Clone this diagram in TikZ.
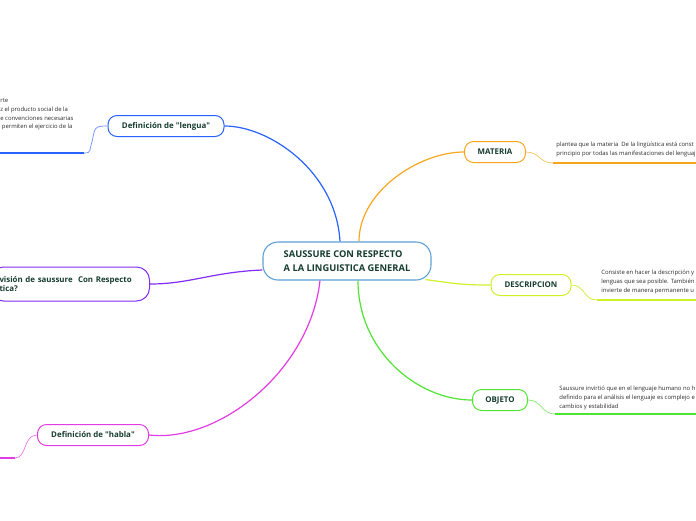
\documentclass[tikz,border=0pt]{standalone}
\usepackage{fontspec}
\setmainfont{Open Sans}
\usepackage{xcolor}
\usetikzlibrary{positioning}

\definecolor{inkgreen}{RGB}{22,60,48}
\definecolor{notegray}{RGB}{45,45,45}
\definecolor{centreblue}{RGB}{95,160,215}
\definecolor{lenblue}{RGB}{41,98,255}
\definecolor{matorange}{RGB}{248,166,30}
\definecolor{desclime}{RGB}{205,242,40}
\definecolor{objgreen}{RGB}{80,228,50}
\definecolor{visionpurple}{RGB}{130,45,245}
\definecolor{hablamag}{RGB}{228,60,228}

\begin{document}
\begin{tikzpicture}[x=1pt, y=-1pt, thick]
  \tikzstyle{topic}=[rectangle, draw=centreblue, fill=white, rounded corners=15pt,
                     line width=1.1pt, minimum width=168pt, minimum height=38pt,
                     align=left, text=inkgreen, font=\fontsize{9.3}{14}\selectfont\bfseries]
  \tikzstyle{branch}=[rectangle, fill=white, rounded corners=9pt, line width=1pt,
                      minimum height=21pt, align=center, text=inkgreen,
                      font=\fontsize{7.9}{9}\selectfont\bfseries]
  \tikzstyle{note}=[anchor=north west, align=left, inner sep=0pt, text=notegray,
                    font=\fontsize{5.9}{8.9}\selectfont]
  \tikzstyle{link}=[line width=1.2pt]
  \tikzstyle{curl}=[line width=0.7pt]
  \tikzstyle{uline}=[line width=1.8pt]

  \useasboundingbox[fill=white] (0,0) rectangle (696,520);

  \node[topic] at (347,261) (centre) {SAUSSURE CON RESPECTO\\A LA LINGUISTICA GENERAL};

  \node[branch, draw=matorange, minimum width=61pt]  at (495,152) (materia)     {MATERIA};
  \node[branch, draw=desclime, minimum width=80pt]   at (531,285) (descripcion) {DESCRIPCION};
  \node[branch, draw=objgreen, minimum width=55pt]   at (500,400) (objeto)      {OBJETO};
  \node[branch, draw=lenblue, minimum width=116pt]   at (166,126) (lengua)      {Definición de \textquotedbl lengua\textquotedbl};
  \node[branch, draw=hablamag, minimum width=111pt]  at (93,435)  (habla)       {Definición de \textquotedbl habla\textquotedbl};
  \node[branch, draw=visionpurple, anchor=east, minimum height=34pt, text width=141pt,
        align=left, inner xsep=9pt, rounded corners=13pt] at (150,284) (vision)
        {visión de saussure\ \ Con Respecto\\tica?};

  \node[note] at (0,98)    (lenguatxt) {rte\\z el producto social de la\\e convenciones necesarias\\\ permiten el ejercicio de la};
  \node[note] at (556,142) (materiatxt) {plantea que la materia\ \ De la lingüística está const\\principio por todas las manifestaciones del lenguaj};
  \node[note] at (601,270) (descripciontxt) {Consiste en hacer la descripción y\\lenguas que sea posible. También\\invierte de manera permanente u};
  \node[note] at (559,386) (objetotxt) {Saussure invirtió que en el lenguaje humano no h\\definido para el análisis el lenguaje es complejo e\\cambios y estabilidad};

  \coordinate (lenguaend) at (0,153);
  \coordinate (materiaend) at (696,163);
  \coordinate (descripcionend) at (696,300);
  \coordinate (objetoend) at (696,414);
  \coordinate (hablaend) at (0,458);

  \draw[link, lenblue] ([xshift=-7pt]centre.north) .. controls +(-4,-70) and +(45,0) .. (lengua.east);
  \draw[link, matorange] ([xshift=12pt]centre.north) .. controls +(0,-50) and +(-45,0) .. (materia.west);
  \draw[link, desclime] ([xshift=-6pt,yshift=1pt]centre.south east) .. controls +(30,4) and +(-30,0) .. (descripcion.west);
  \draw[link, objgreen] ([xshift=11pt]centre.south) .. controls +(0,70) and +(-55,0) .. (objeto.west);
  \draw[link, hablamag] ([xshift=-27pt]centre.south) .. controls +(-10,90) and +(70,8) .. (habla.east);
  \draw[link, visionpurple] ([yshift=-9pt]centre.west) .. controls +(-50,2) and +(40,0) .. (vision.east);

  \draw[curl, lenblue!70] (lengua.west) .. controls +(-14,0) and +(3,-14) .. (92,142) .. controls +(-3,8) and +(8,0) .. (84,153);
  \draw[uline, lenblue] (84,153) -- (lenguaend);
  \draw[curl, matorange!70] (materia.east) .. controls +(14,0) and +(-14,0) .. (553,163);
  \draw[uline, matorange] (553,163) -- (materiaend);
  \draw[curl, desclime] (descripcion.east) .. controls +(14,0) and +(-14,0) .. (597,300);
  \draw[uline, desclime] (597,300) -- (descripcionend);
  \draw[curl, objgreen!70] (objeto.east) .. controls +(14,0) and +(-14,0) .. (555,414);
  \draw[uline, objgreen] (555,414) -- (objetoend);
  \draw[curl, hablamag!70] (habla.west) .. controls +(-14,0) and +(12,0) .. (15,458);
  \draw[uline, hablamag] (15,458) -- (hablaend);
\end{tikzpicture}
\end{document}
